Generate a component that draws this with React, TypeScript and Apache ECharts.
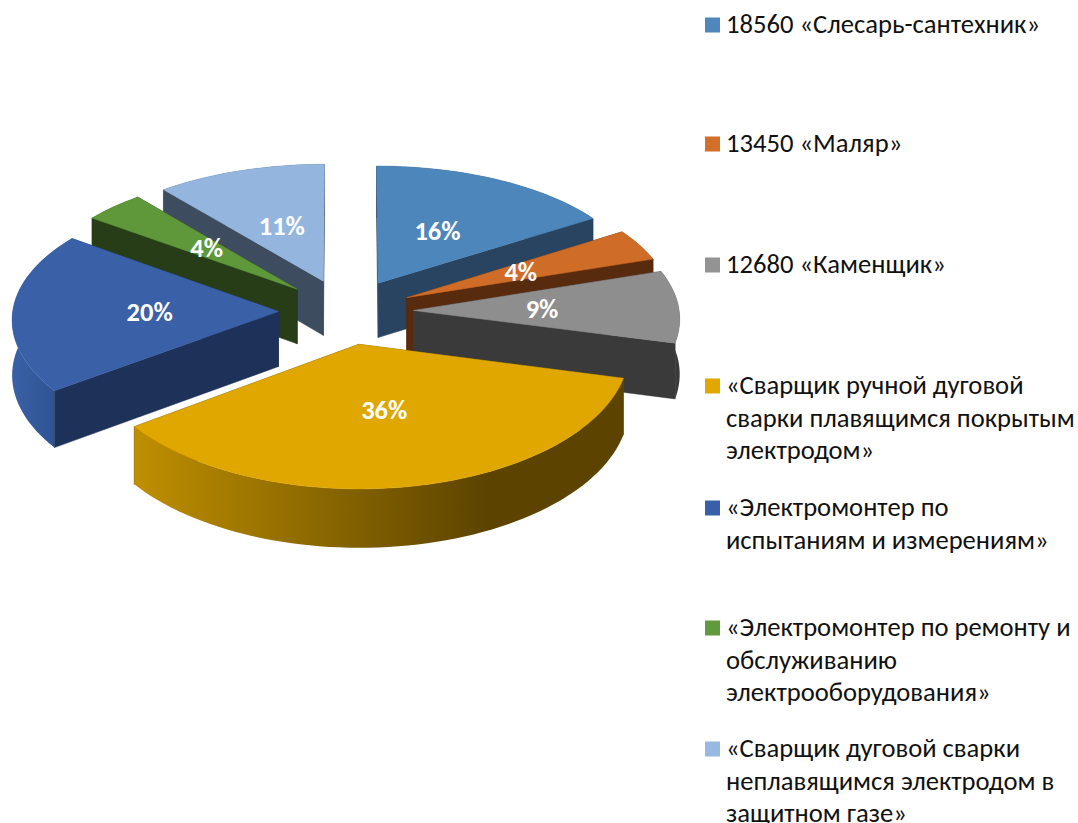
import React, { useEffect, useRef } from "react";
import * as echarts from "echarts";

const categories = [
  "18560 «Слесарь-сантехник»",
  "13450 «Маляр»",
  "12680 «Каменщик»",
  "«Сварщик ручной дуговой\nсварки плавящимся покрытым\nэлектродом»",
  "«Электромонтер по\nиспытаниям и измерениям»",
  "«Электромонтер по ремонту и\nобслуживанию\nэлектрооборудования»",
  "«Сварщик дуговой сварки\nнеплавящимся электродом в\nзащитном газе»",
];
const shares = [16, 4, 9, 36, 20, 4, 11];

const topColors = ["#4D86BB", "#CF6C27", "#8E8E8E", "#DFA700", "#3A60A8", "#5F983B", "#94B5DE"];
const swatchColors = ["#4F87BC", "#D26F29", "#939393", "#E0A800", "#3A5FAA", "#5F9A3C", "#97B8E0"];
const wallColors = ["#284461", "#582B0F", "#3A3A3A", "#5C4500", "#1E3259", "#273D18", "#3D4C5E"];
const outerStops: [number, string][][] = [
  [[0, "#284461"], [1, "#284461"]],
  [[0, "#582B0F"], [1, "#582B0F"]],
  [[0, "#3A3A3A"], [1, "#3A3A3A"]],
  [[0, "#BF8F00"], [0.72, "#5C4400"], [1, "#5C4400"]],
  [[0, "#3A60A6"], [1, "#2B4F8C"]],
  [[0, "#273D18"], [1, "#273D18"]],
  [[0, "#3D4C5E"], [1, "#3D4C5E"]],
];
const paintOrder = [6, 0, 5, 1, 4, 2, 3];
const legendCentres = [25, 144, 265, 386, 508, 628, 749];

const FONT = "Carlito, Lato, 'Open Sans', sans-serif";
const CX = 346, CY = 311.5, R = 264, TILT = 0.49, DEPTH_Y = 0.00027, DEPTH_X = 0.0002, STRETCH_X = 1.007;
const EXPLODE = 67, WALL = 55, LABEL_R = 128;
const LINE = 32.5;
const total = shares.reduce((a, b) => a + b, 0);

function sliceAngles(i: number) {
  const before = shares.slice(0, i).reduce((a, b) => a + b, 0);
  const a0 = (before / total) * Math.PI * 2;
  const a1 = ((before + shares[i]) / total) * Math.PI * 2;
  return { a0, a1, mid: (a0 + a1) / 2 };
}
function project(mid: number, r: number, a: number, h: number): number[] {
  const X = EXPLODE * Math.sin(mid) + r * Math.sin(a);
  const D = EXPLODE * Math.cos(mid) + r * Math.cos(a);
  const kx = 1 / (1 + D * DEPTH_X);
  const ky = 1 / (1 + D * DEPTH_Y);
  return [CX + X * STRETCH_X * kx, CY - D * TILT * ky + h * kx];
}
function renderSlice(i: number) {
  const { a0, a1, mid } = sliceAngles(i);
  const steps = Math.max(4, Math.ceil((a1 - a0) / (Math.PI / 90)));
  const arc = (h: number) => {
    const out: number[][] = [];
    for (let s = 0; s <= steps; s++) out.push(project(mid, R, a0 + ((a1 - a0) * s) / steps, h));
    return out;
  };
  const apexT = project(mid, 0, 0, 0);
  const apexB = project(mid, 0, 0, WALL);
  const topArc = arc(0);
  const botArc = arc(WALL);
  const top = [apexT, ...topArc];
  const inner = project(mid, R * 0.5, mid, 0);
  const wall = (end: number[], endB: number[]) => {
    const pts = [apexT, end, endB, apexB];
    const dx = end[0] - apexT[0];
    const isFront = Math.abs(dx) > 1 && inner[1] < apexT[1] + ((end[1] - apexT[1]) * (inner[0] - apexT[0])) / dx;
    return { pts, isFront };
  };
  const w0 = wall(topArc[0], botArc[0]);
  const w1 = wall(topArc[steps], botArc[steps]);
  const poly = (points: number[][], fill: any, stroke?: string) => ({
    type: "polygon",
    shape: { points },
    style: { fill, stroke: stroke ?? "none", lineWidth: stroke ? 0.5 : 0 },
    silent: true,
  });
  const wc = wallColors[i];
  const walls = [w0, w1];
  return {
    type: "group",
    children: [
      ...walls.filter((w) => !w.isFront).map((w) => poly(w.pts, wc, wc)),
      poly(
        [...topArc, ...botArc.slice().reverse()],
        new echarts.graphic.LinearGradient(0, 0, 1, 0, outerStops[i].map(([offset, color]) => ({ offset, color })))
      ),
      ...walls.filter((w) => w.isFront).map((w) => poly(w.pts, wc, wc)),
      poly(top, topColors[i], topColors[i]),
    ],
  };
}

export default function App() {
  const ref = useRef<HTMLDivElement>(null);
  useEffect(() => {
    const chart = echarts.init(ref.current!, undefined, { renderer: "svg" });
    const sliceSeries = categories.map((name, i) => ({
      type: "custom",
      name,
      coordinateSystem: "none",
      z: 2 + paintOrder.indexOf(i),
      silent: true,
      itemStyle: { color: swatchColors[i] },
      data: [[shares[i]]],
      renderItem: () => renderSlice(i),
    }));
    const labelSeries = {
      type: "custom",
      name: "labels",
      coordinateSystem: "none",
      z: 20,
      silent: true,
      data: shares.map((v) => [v]),
      renderItem: (params: any) => {
        const i = params.dataIndex;
        const { mid } = sliceAngles(i);
        const [x, y] = project(mid, LABEL_R, mid, 0);
        return {
          type: "text",
          silent: true,
          style: {
            text: `${shares[i]}%`,
            x,
            y,
            align: "center",
            verticalAlign: "middle",
            fill: "#FFFFFF",
            font: `bold 26.5px ${FONT}`,
          },
        };
      },
    };
    const legends = categories.map((name, i) => {
      const lines = name.split("\n").length;
      const boxH = lines * LINE;
      const y0 = (LINE - 15) / 2 + 1;
      // Swatch sits beside the first line: the icon box spans all lines, and its square is at the top.
      const icon = `path://M0 ${y0}H15V${y0 + 15}H0Z M0 0L0.01 0Z M15 ${boxH}L14.99 ${boxH}Z`;
      return {
        data: [{ name, icon }],
        left: 705,
        top: legendCentres[i] - LINE / 2 - 1,
        padding: 0,
        orient: "vertical",
        itemWidth: 15,
        itemHeight: boxH,
        itemGap: 0,
        selectedMode: false,
        textStyle: {
          fontFamily: FONT,
          fontSize: 26.6,
          lineHeight: LINE,
          color: "#111111",
          padding: [0, 0, 0, 1],
        },
      };
    });
    chart.setOption({
      animation: false,
      backgroundColor: "#FFFFFF",
      legend: legends,
      series: [...sliceSeries, labelSeries],
    });
    return () => chart.dispose();
  }, []);
  return <div ref={ref} style={{ position: "absolute", left: 0, top: 0, width: 1078, height: 823 }} />;
}
